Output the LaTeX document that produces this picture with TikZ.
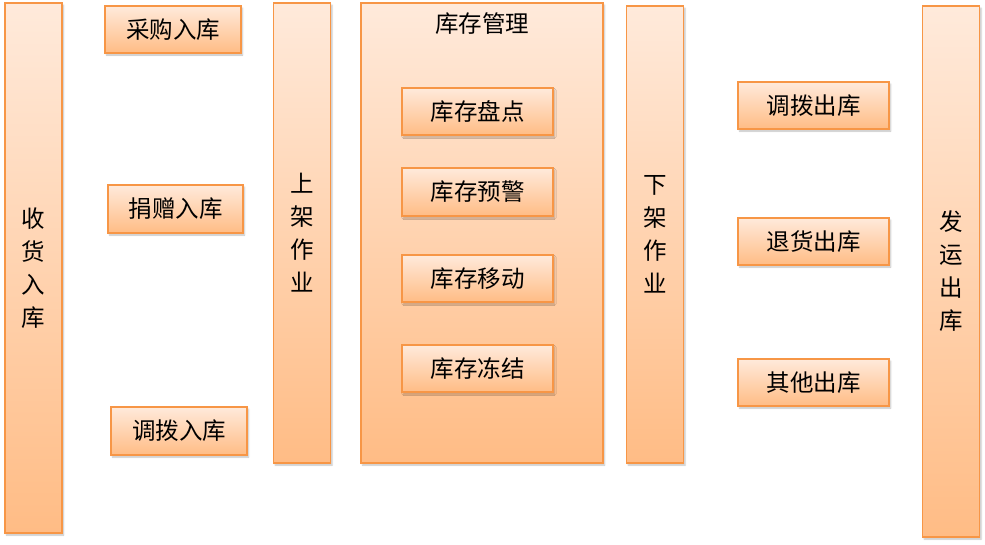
\documentclass[tikz,border=0pt]{standalone}
\usepackage{fontspec}
\usepackage{tikz}
\usetikzlibrary{positioning, shadows.blur}
\newfontfamily\cjk{Noto Sans CJK SC}
\definecolor{boxtop}{HTML}{FFEADB}
\definecolor{boxbottom}{HTML}{FFBC85}
\definecolor{boxedge}{HTML}{F79646}

\begin{document}
\begin{tikzpicture}[x=1pt, y=-1pt,
  stage/.style={draw=boxedge, line width=1.2pt, top color=boxtop, bottom color=boxbottom,
    inner sep=0pt, align=center, font=\cjk\fontsize{23.5}{33}\selectfont,
    blur shadow={shadow xshift=1.5pt, shadow yshift=-2pt, shadow blur steps=4, shadow opacity=25}},
  tall/.style={stage, minimum width=57pt},
  item/.style={stage, minimum width=151pt, minimum height=47pt}]
  \useasboundingbox (0,0) rectangle (985,544);

  % inbound
  \node[tall, minimum height=530pt] (recv) at (33.5,268) {收\\货\\入\\库};
  \node[item, minimum width=136pt] (buy) at (173,29.5) {采购入库};
  \node[item, minimum width=135pt, minimum height=48pt] (donate) at (175.5,209) {捐赠入库};
  \node[item, minimum width=136pt, minimum height=48pt] (transin) at (179,431) {调拨入库};
  \node[tall, minimum height=460pt] (putaway) at (302,233) {上\\架\\作\\业};

  % inventory
  \node[stage, minimum width=242pt, minimum height=460pt] (inv) at (482,233) {};
  \node[font=\cjk\fontsize{23.5}{33}\selectfont] (invtitle) at (482,24) {库存管理};
  \node[item] (count) at (477.5,111.5) {库存盘点};
  \node[item, minimum height=48pt] (warn) at (477.5,192) {库存预警};
  \node[item] (move) at (477.5,278.5) {库存移动};
  \node[item] (freeze) at (477.5,368.5) {库存冻结};

  % outbound
  \node[tall, minimum height=457pt] (pick) at (655,234.5) {下\\架\\作\\业};
  \node[item] (transout) at (813.5,105.5) {调拨出库};
  \node[item] (return) at (813.5,241.5) {退货出库};
  \node[item] (other) at (813.5,382.5) {其他出库};
  \node[tall, minimum height=531pt] (ship) at (951,271.5) {发\\运\\出\\库};
\end{tikzpicture}
\end{document}
